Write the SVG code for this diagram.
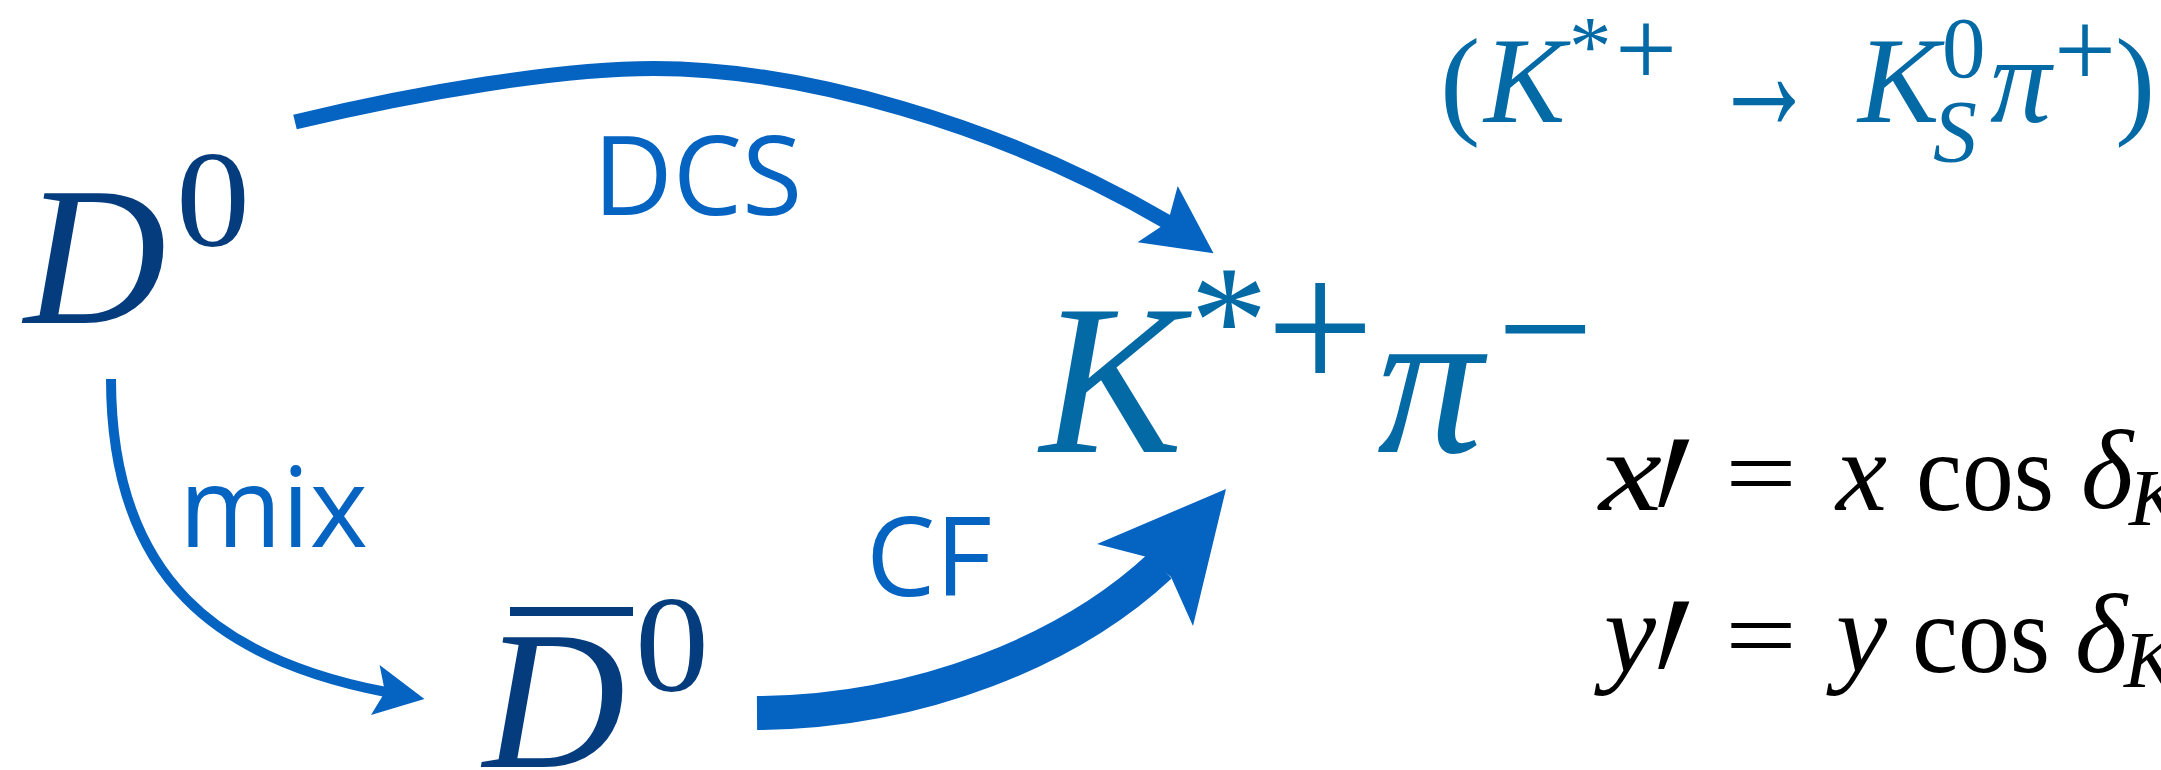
<svg xmlns="http://www.w3.org/2000/svg" width="2161" height="770" viewBox="0 0 2161 770">
<style>
.arw{fill:none;stroke:#0563C1;stroke-linecap:butt}
.head{fill:#0563C1}
.lbl{font-family:"Open Sans","Noto Sans",sans-serif;fill:#0563C1}
.mD{font-family:"Liberation Serif",serif;fill:#043C7D}
.mK{font-family:"Liberation Serif",serif;fill:#036AA6}
.eq{font-family:"Liberation Serif",serif;fill:#000}
.it{font-style:italic}
</style>
<rect width="2161" height="770" fill="#fff"/>
<g id="connectors">
  <g id="edge-dcs">
    <path class="arw" stroke-width="15" d="M295 122 C420 92 560 68.5 654 68.5 C800 68.5 1000 124 1169 223"/>
    <polygon class="head" points="1213.5,253.3 1177.7,186 1168,222 1137.6,242.3"/>
  </g>
  <g id="edge-mix">
    <path class="arw" stroke-width="10" d="M111 379 C111 580 220 660 386 692"/>
    <polygon class="head" points="424.4,699 379.6,665 385,692 371,715"/>
  </g>
  <g id="edge-cf">
    <path class="arw" stroke-width="34" d="M757 713 C920 712 1070 650 1160 566"/>
    <polygon class="head" points="1226,489 1097,544 1147,557 1171,577 1193,626"/>
  </g>
  <text class="lbl" x="593" y="215" font-size="110">DCS</text>
  <text class="lbl" x="179" y="547" font-size="111">mix</text>
  <text class="lbl" x="866" y="596" font-size="110">CF</text>
</g>
<g id="node-D0">
  <text class="mD it" x="24" y="323" font-size="197">D</text>
  <text class="mD" x="176" y="246" font-size="138" textLength="74" lengthAdjust="spacingAndGlyphs">0</text>
</g>
<g id="node-D0bar">
  <rect x="510" y="607" width="123" height="9" fill="#043C7D"/>
  <text class="mD it" x="483" y="767" font-size="197">D</text>
  <text class="mD" x="635" y="691" font-size="138" textLength="74" lengthAdjust="spacingAndGlyphs">0</text>
</g>
<g id="node-Kpi">
  <text class="mK it" x="1040" y="452" font-size="214">K</text>
  <text class="mK" x="1190" y="373" font-size="156">*</text>
  <text class="mK" x="1266" y="392" font-size="192">+</text>
  <text class="mK it" x="1377" y="452" font-size="211">π</text>
  <text class="mK" x="1497" y="386" font-size="171">−</text>
</g>
<g id="note-decay">
  <text class="mK" x="1440" y="122" font-size="121">(</text>
  <text class="mK it" x="1484" y="122" font-size="122">K</text>
  <text class="mK" x="1569" y="75" font-size="85">*</text>
  <text class="mK" x="1615" y="86" font-size="110">+</text>
  <text class="mK" x="1712" y="130" font-size="170" textLength="104" lengthAdjust="spacingAndGlyphs">→</text>
  <text class="mK it" x="1858" y="122" font-size="122">K</text>
  <text class="mK" x="1942" y="77" font-size="87">0</text>
  <text class="mK it" x="1933" y="161" font-size="88">S</text>
  <text class="mK it" x="1990" y="122" font-size="122">π</text>
  <text class="mK" x="2054" y="87" font-size="110">+</text>
  <text class="mK" x="2115" y="122" font-size="121">)</text>
</g>
<g id="note-eqs">
  <text class="eq it" x="1599" y="510" font-size="115" textLength="63" lengthAdjust="spacingAndGlyphs">x</text>
  <text class="eq" transform="translate(1629 628) skewX(-10) scale(1 1.8)" font-size="160">′</text>
  <text class="eq" x="1725" y="507" font-size="100" textLength="72" lengthAdjust="spacingAndGlyphs">=</text>
  <text class="eq it" x="1836" y="510" font-size="115" textLength="51" lengthAdjust="spacingAndGlyphs">x</text>
  <text class="eq" x="1916" y="510" font-size="112" textLength="138" lengthAdjust="spacingAndGlyphs">cos</text>
  <text class="eq it" x="2081" y="508" font-size="112">δ</text>
  <text class="eq it" x="2129" y="525" font-size="80">K</text>
  <text class="eq it" x="1604" y="672" font-size="115" textLength="52" lengthAdjust="spacingAndGlyphs">y</text>
  <text class="eq" transform="translate(1629 790) skewX(-10) scale(1 1.8)" font-size="160">′</text>
  <text class="eq" x="1725" y="669" font-size="100" textLength="72" lengthAdjust="spacingAndGlyphs">=</text>
  <text class="eq it" x="1836" y="672" font-size="115" textLength="51" lengthAdjust="spacingAndGlyphs">y</text>
  <text class="eq" x="1912" y="672" font-size="112" textLength="138" lengthAdjust="spacingAndGlyphs">cos</text>
  <text class="eq it" x="2075" y="672" font-size="112">δ</text>
  <text class="eq it" x="2124" y="687" font-size="80">K</text>
</g>
</svg>
